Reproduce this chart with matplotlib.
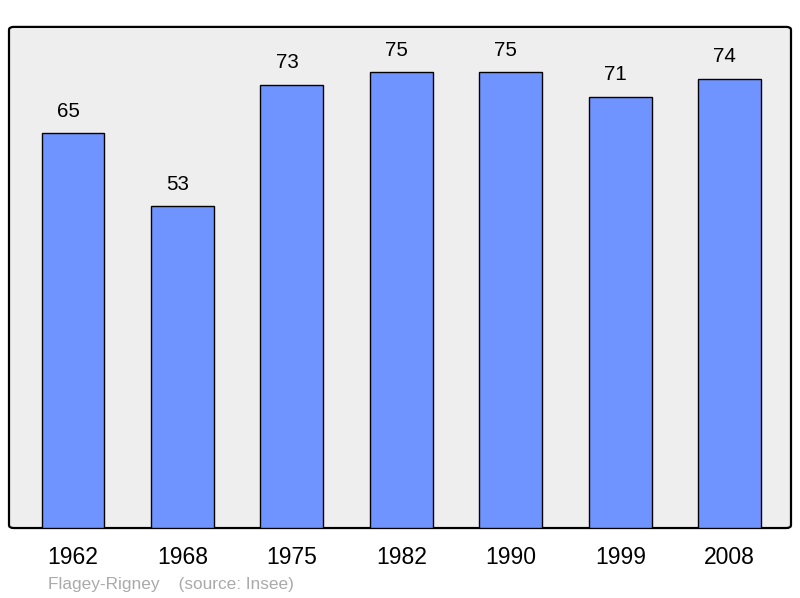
import matplotlib
matplotlib.use("Agg")
import matplotlib.pyplot as plt
from matplotlib.patches import FancyBboxPatch

years = ["1962", "1968", "1975", "1982", "1990", "1999", "2008"]
population = [65, 53, 73, 75, 75, 71, 74]
commune = "Flagey-Rigney"
source = "(source: Insee)"

plt.rcParams["font.family"] = ["Liberation Sans", "DejaVu Sans"]

fig = plt.figure(figsize=(8, 5.98), dpi=100)
ax = fig.add_axes([0.01125, 0.117, 0.9775, 0.838])
ax.set_facecolor("none")

bg = FancyBboxPatch((0, 0), 1, 1, boxstyle="round,pad=0,rounding_size=0.006",
                    transform=ax.transAxes, facecolor="#eeeeee", edgecolor="black",
                    linewidth=1.6, zorder=0, clip_on=False)
ax.add_patch(bg)

x = range(len(years))
ax.bar(x, population, width=0.575, color="#7094ff", edgecolor="black",
       linewidth=1.0, zorder=2)
for xi, v in zip(x, population):
    ax.annotate(str(v), (xi, v), xytext=(-3.6, 9), textcoords="offset points",
                ha="center", va="bottom", fontsize=14.8)

ax.set_xlim(-0.585, 6.56)
ax.set_ylim(0, max(population) * 1.1)
for s in ax.spines.values():
    s.set_visible(False)
ax.set_yticks([])
ax.set_xticks(list(x))
ax.set_xticklabels(years, fontsize=16.5)
ax.tick_params(axis="x", length=0, pad=13)

fig.text(48 / 800, 1 - 584 / 598, commune + "    " + source, color="#aaaaaa",
         fontsize=12.4, ha="left", va="center")

fig.savefig("out.png", dpi=100)
